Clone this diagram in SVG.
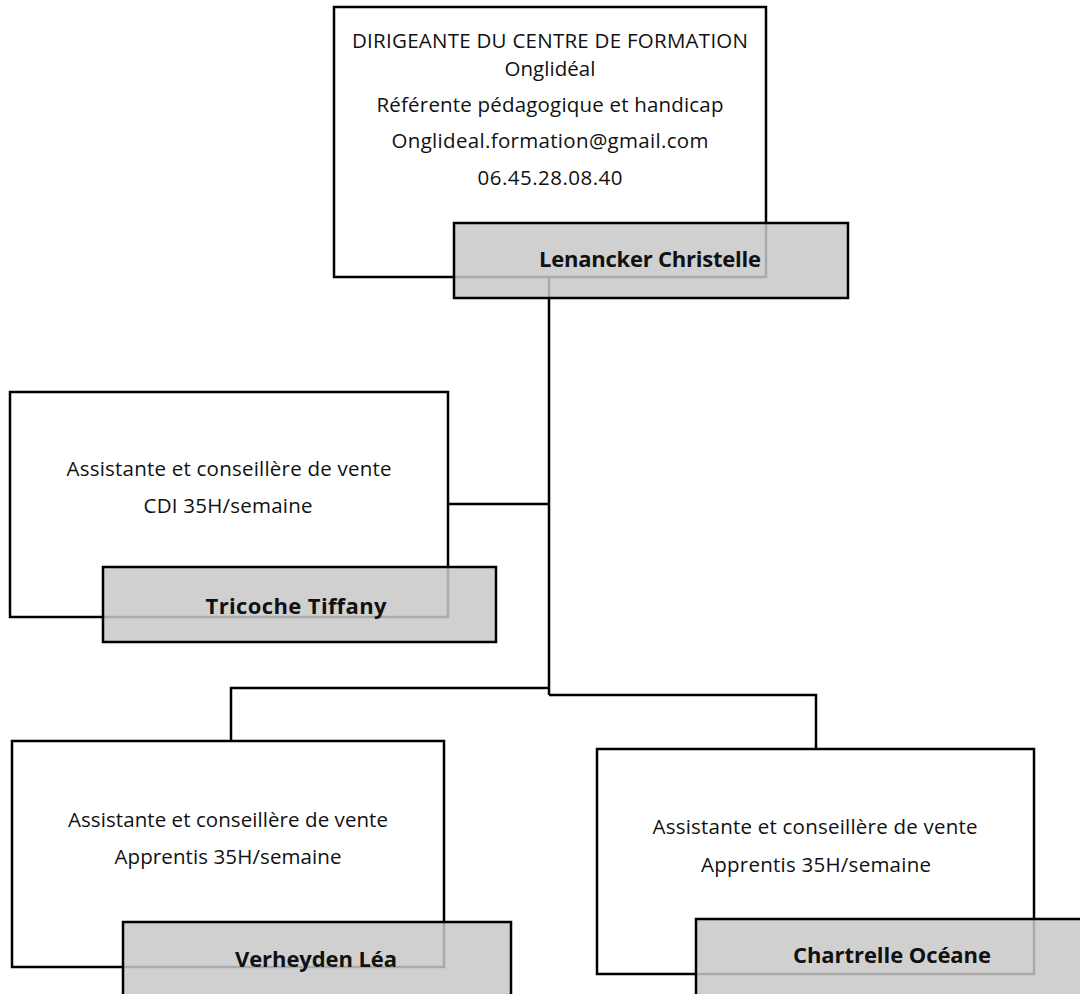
<svg xmlns="http://www.w3.org/2000/svg" width="1080" height="994" viewBox="0 0 1080 994">
<style>
.box{fill:#ffffff;stroke:#000;stroke-width:2.5}
.name{fill:rgb(200,200,200);fill-opacity:0.85;stroke:#000;stroke-width:2.5}
.conn{fill:none;stroke:#000;stroke-width:2.5}
.t{font-family:"Open Sans","Liberation Sans",sans-serif;font-size:20.5px;fill:#111;text-anchor:middle}
.b{font-family:"Open Sans","Liberation Sans",sans-serif;font-size:22px;font-weight:bold;fill:#111;text-anchor:middle}
</style>
<rect width="1080" height="994" fill="#fff"/>
<g id="node-dirigeante-box">
<rect class="box" x="334" y="7" width="432" height="270"/>
<text class="t" x="550" y="48" textLength="396">DIRIGEANTE DU CENTRE DE FORMATION</text>
<text class="t" x="550" y="76" textLength="91">Onglidéal</text>
<text class="t" x="550" y="112" textLength="347">Référente pédagogique et handicap</text>
<text class="t" x="550" y="148" textLength="317">Onglideal.formation@gmail.com</text>
<text class="t" x="550" y="185" textLength="145">06.45.28.08.40</text>
</g>
<g id="node-tricoche-box">
<rect class="box" x="10" y="392" width="438" height="225"/>
<text class="t" x="229" y="476" textLength="325">Assistante et conseillère de vente</text>
<text class="t" x="228" y="513" textLength="169">CDI 35H/semaine</text>
</g>
<g id="node-verheyden-box">
<rect class="box" x="12" y="741" width="432" height="226"/>
<text class="t" x="228" y="827" textLength="320">Assistante et conseillère de vente</text>
<text class="t" x="228" y="864" textLength="227">Apprentis 35H/semaine</text>
</g>
<g id="node-chartrelle-box">
<rect class="box" x="597" y="749" width="437" height="225"/>
<text class="t" x="815" y="834" textLength="325">Assistante et conseillère de vente</text>
<text class="t" x="816" y="872" textLength="230">Apprentis 35H/semaine</text>
</g>
<g id="connectors">
<path class="conn" d="M549 277 V695"/>
<path class="conn" d="M448 504 H549"/>
<path class="conn" d="M549 688 H231 V741"/>
<path class="conn" d="M549 695 H816 V749"/>
</g>
<g id="node-lenancker">
<rect class="name" x="454" y="223" width="394" height="75"/>
<text class="b" x="650" y="267" textLength="222">Lenancker Christelle</text>
</g>
<g id="node-tricoche">
<rect class="name" x="103" y="567" width="393" height="75"/>
<text class="b" x="296" y="614" textLength="181">Tricoche Tiffany</text>
</g>
<g id="node-verheyden">
<rect class="name" x="123" y="922" width="388" height="90"/>
<text class="b" x="316" y="967" textLength="162">Verheyden Léa</text>
</g>
<g id="node-chartrelle">
<rect class="name" x="696" y="919" width="400" height="90"/>
<text class="b" x="892" y="963" textLength="198">Chartrelle Océane</text>
</g>
</svg>
